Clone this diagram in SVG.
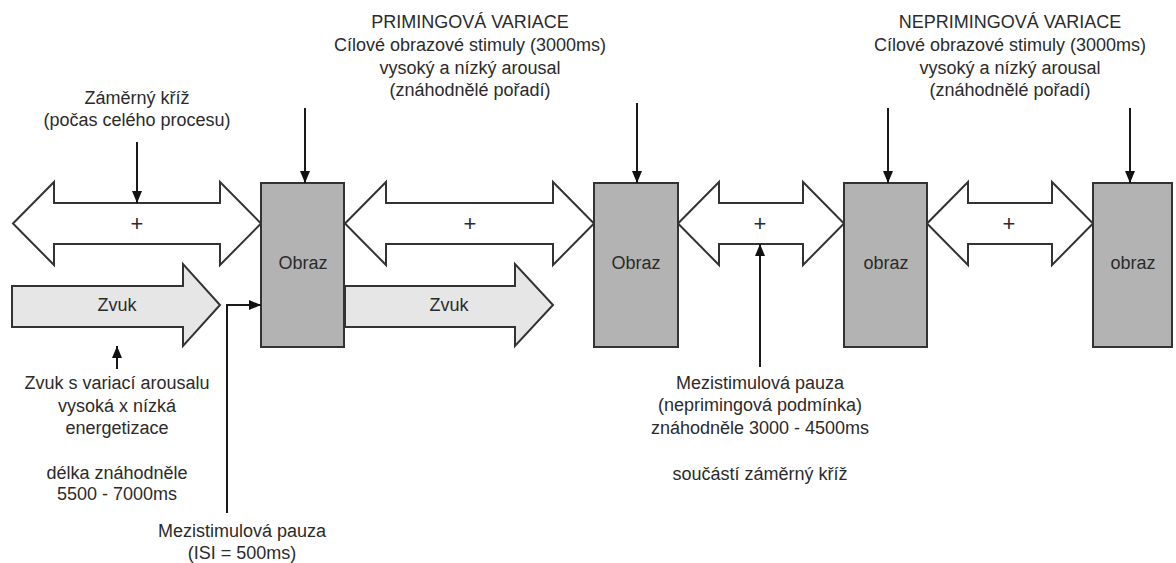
<svg xmlns="http://www.w3.org/2000/svg" width="1176" height="563" viewBox="0 0 1176 563">
<defs>
<marker id="ah" markerUnits="userSpaceOnUse" markerWidth="12" markerHeight="12" viewBox="0 0 12 10" refX="12" refY="5" orient="auto">
<path d="M0,0 L12,5 L0,10 z" fill="#111"/>
</marker>
<style>
text{font-family:"Liberation Sans",Arial,sans-serif;font-size:18px;fill:#2b2b2b;text-anchor:middle}
text.plus{font-size:22px}
.cross{fill:#fff;stroke:#333;stroke-width:2;stroke-linejoin:miter}
.sound{fill:#e6e6e6;stroke:#333;stroke-width:2}
.box{fill:#b3b3b3;stroke:#333;stroke-width:2}
.conn{fill:none;stroke:#1a1a1a;stroke-width:2;marker-end:url(#ah)}
</style>
</defs>
<rect width="1176" height="563" fill="#fff"/>

<g id="cross1"><path class="cross" d="M13,223.5 L54,182 L54,203 L220,203 L220,182 L261,223.5 L220,265 L220,244 L54,244 L54,265 Z"/><text class="plus" x="137" y="231">+</text></g>
<g id="cross2"><path class="cross" d="M345,223.5 L386,182 L386,203 L553,203 L553,182 L594,223.5 L553,265 L553,244 L386,244 L386,265 Z"/><text class="plus" x="470" y="231">+</text></g>
<g id="cross3"><path class="cross" d="M678,223.5 L719,182 L719,203 L803,203 L803,182 L844,223.5 L803,265 L803,244 L719,244 L719,265 Z"/><text class="plus" x="760" y="231">+</text></g>
<g id="cross4"><path class="cross" d="M927,223.5 L968,182 L968,203 L1052,203 L1052,182 L1093,223.5 L1052,265 L1052,244 L968,244 L968,265 Z"/><text class="plus" x="1009" y="231">+</text></g>

<g id="sound1"><path class="sound" d="M12,286 L183,286 L183,264 L220,305 L183,346 L183,327 L12,327 Z"/><text x="117" y="311">Zvuk</text></g>
<g id="sound2"><path class="sound" d="M345,286 L515,286 L515,264 L553,305 L515,346 L515,327 L345,327 Z"/><text x="449" y="311">Zvuk</text></g>

<g id="image1"><rect class="box" x="261" y="183" width="83" height="164"/><text x="303" y="269">Obraz</text></g>
<g id="image2"><rect class="box" x="594" y="183" width="84" height="164"/><text x="636" y="269">Obraz</text></g>
<g id="image3"><rect class="box" x="844" y="183" width="83" height="164"/><text x="886" y="269">obraz</text></g>
<g id="image4"><rect class="box" x="1093" y="183" width="79" height="164"/><text x="1133" y="269">obraz</text></g>

<g id="connectors">
<line class="conn" x1="137" y1="142" x2="137" y2="203"/>
<line class="conn" x1="305" y1="108" x2="305" y2="183"/>
<line class="conn" x1="637" y1="103" x2="637" y2="183"/>
<line class="conn" x1="888" y1="108" x2="888" y2="183"/>
<line class="conn" x1="1130" y1="108" x2="1130" y2="183"/>
<line class="conn" x1="117" y1="369" x2="117" y2="346"/>
<path class="conn" d="M227,513 L227,305 L261,305"/>
<line class="conn" x1="760" y1="367" x2="760" y2="244"/>
</g>

<g id="label-cross">
<text x="137" y="104">Záměrný kříž</text>
<text x="137" y="126">(počas celého procesu)</text>
</g>
<g id="label-priming">
<text x="470" y="28">PRIMINGOVÁ VARIACE</text>
<text x="470" y="51">Cílové obrazové stimuly (3000ms)</text>
<text x="470" y="74">vysoký a nízký arousal</text>
<text x="470" y="96">(znáhodnělé pořadí)</text>
</g>
<g id="label-nonpriming">
<text x="1010" y="28">NEPRIMINGOVÁ VARIACE</text>
<text x="1010" y="51">Cílové obrazové stimuly (3000ms)</text>
<text x="1010" y="74">vysoký a nízký arousal</text>
<text x="1010" y="96">(znáhodnělé pořadí)</text>
</g>
<g id="label-sound">
<text x="117" y="389">Zvuk s variací arousalu</text>
<text x="117" y="412">vysoká x nízká</text>
<text x="117" y="434">energetizace</text>
<text x="117" y="479">délka znáhodněle</text>
<text x="117" y="500">5500 - 7000ms</text>
</g>
<g id="label-isi">
<text x="242" y="537">Mezistimulová pauza</text>
<text x="242" y="559">(ISI = 500ms)</text>
</g>
<g id="label-pause">
<text x="760" y="389">Mezistimulová pauza</text>
<text x="760" y="411">(neprimingová podmínka)</text>
<text x="760" y="434">znáhodněle 3000 - 4500ms</text>
<text x="760" y="480">součástí záměrný kříž</text>
</g>
</svg>
